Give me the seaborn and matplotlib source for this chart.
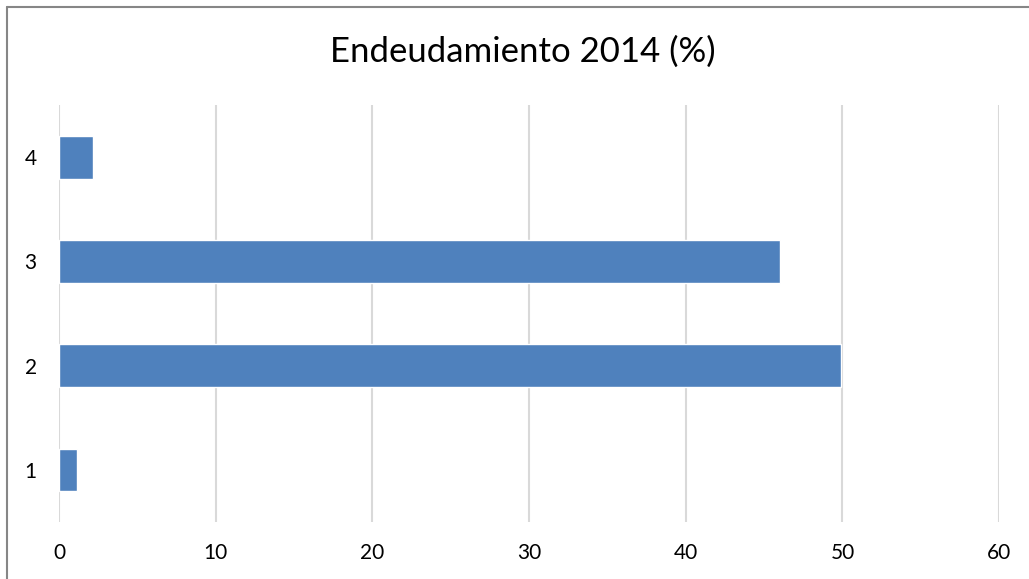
import pandas as pd
import numpy as np
import matplotlib
matplotlib.use('Agg')
import matplotlib.pyplot as plt
import seaborn as sns

# data
categorias = ['1', '2', '3', '4']
valores = [1.15, 49.9, 46.0, 2.2]
titulo = 'Endeudamiento 2014 (%)'
xticks = [0, 10, 20, 30, 40, 50, 60]

df = pd.DataFrame({'cat': categorias, 'valor': valores})

sns.set_theme(style='white')
plt.rcParams['font.family'] = ['Lato', 'DejaVu Sans']

fig = plt.figure(figsize=(10.29, 5.79), dpi=100)
ax = fig.add_axes([0.0573, 0.0984, 0.9137, 0.7200])

sns.barplot(data=df, x='valor', y='cat', order=categorias[::-1],
            color='#4F81BD', saturation=1, width=0.41, orient='h', ax=ax)

ax.set_xlim(0, 60)
ax.set_ylim(3.5, -0.5)
ax.set_xticks(xticks)
ax.set_xticklabels([str(t) for t in xticks])
ax.grid(axis='x', color='#D9D9D9', linewidth=1.5)
ax.set_axisbelow(True)
for s in ax.spines.values():
    s.set_visible(False)
ax.tick_params(axis='both', length=0, labelsize=15, colors='black')
ax.tick_params(axis='x', pad=15)
ax.tick_params(axis='y', pad=16)
ax.set_xlabel('')
ax.set_ylabel('')

fig.text(0.508, 0.91, titulo, ha='center', va='center', fontsize=25, color='black')

# outer chart border (cut off at right and bottom as in the picture)
fig.add_artist(plt.Line2D([0.0068, 1.0], [0.988, 0.988], transform=fig.transFigure,
                          color='#868686', linewidth=1.5))
fig.add_artist(plt.Line2D([0.0068, 0.0068], [0.0, 0.988], transform=fig.transFigure,
                          color='#868686', linewidth=1.5))

fig.savefig('out.png', dpi=100)
